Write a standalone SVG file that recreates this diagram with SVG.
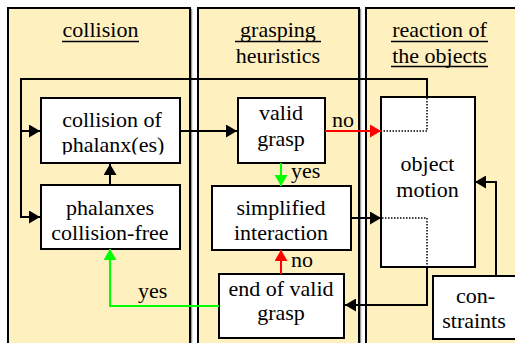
<svg xmlns="http://www.w3.org/2000/svg" width="515" height="343" viewBox="0 0 515 343">
<defs>
<marker id="ab" markerUnits="userSpaceOnUse" markerWidth="12" markerHeight="13" refX="11" refY="6.5" orient="auto"><path d="M0,0 L11,6.5 L0,13 z" fill="#000"/></marker>
<marker id="ar" markerUnits="userSpaceOnUse" markerWidth="12" markerHeight="13" refX="11" refY="6.5" orient="auto"><path d="M0,0 L11,6.5 L0,13 z" fill="#FF0000"/></marker>
<marker id="ag" markerUnits="userSpaceOnUse" markerWidth="12" markerHeight="13" refX="11" refY="6.5" orient="auto"><path d="M0,0 L11,6.5 L0,13 z" fill="#00FF00"/></marker>
</defs>
<rect width="515" height="343" fill="#fff"/>

<g id="panel-collision">
<rect x="9.5" y="9.5" width="182" height="336" fill="none" stroke="#999" stroke-width="1.5"/>
<rect x="8" y="8" width="182" height="336" fill="#FFF0C0" stroke="#000" stroke-width="2"/>
<text x="100.5" y="37" text-anchor="middle" font-size="22" font-family="Times New Roman, Tinos, Liberation Serif, serif">collision</text>
<line x1="62" y1="41.5" x2="139" y2="41.5" stroke="#000" stroke-width="1.5"/>
</g>
<g id="panel-grasping">
<rect x="199.5" y="9.5" width="161" height="336" fill="none" stroke="#999" stroke-width="1.5"/>
<rect x="198" y="8" width="161" height="336" fill="#FFF0C0" stroke="#000" stroke-width="2"/>
<text x="278" y="37" text-anchor="middle" font-size="22" font-family="Times New Roman, Tinos, Liberation Serif, serif">grasping</text>
<line x1="235" y1="41.5" x2="321" y2="41.5" stroke="#000" stroke-width="1.5"/>
<text x="278" y="63" text-anchor="middle" font-size="22" font-family="Times New Roman, Tinos, Liberation Serif, serif">heuristics</text>
</g>
<g id="panel-reaction">
<rect x="367.5" y="9.5" width="152" height="336" fill="none" stroke="#999" stroke-width="1.5"/>
<rect x="366" y="8" width="152" height="336" fill="#FFF0C0" stroke="#000" stroke-width="2"/>
<text x="439.5" y="37" text-anchor="middle" font-size="22" font-family="Times New Roman, Tinos, Liberation Serif, serif">reaction of</text>
<line x1="391" y1="41.5" x2="488" y2="41.5" stroke="#000" stroke-width="1.5"/>
<text x="439.5" y="63" text-anchor="middle" font-size="22" font-family="Times New Roman, Tinos, Liberation Serif, serif">the objects</text>
<line x1="391" y1="66.5" x2="488" y2="66.5" stroke="#000" stroke-width="1.5"/>
</g>

<g id="node-collision-of-phalanx">
<rect x="41" y="98" width="139" height="65" fill="#fff" stroke="#000" stroke-width="2"/>
<text x="112" y="127" text-anchor="middle" font-size="22" font-family="Times New Roman, Tinos, Liberation Serif, serif">collision of</text>
<text x="113" y="152" text-anchor="middle" font-size="22" font-family="Times New Roman, Tinos, Liberation Serif, serif">phalanx(es)</text>
<rect x="43" y="154.5" width="135" height="7.5" fill="#fff"/>
</g>
<g id="node-phalanxes-free">
<rect x="41" y="185" width="139" height="64" fill="#fff" stroke="#000" stroke-width="2"/>
<text x="110" y="215" text-anchor="middle" font-size="22" font-family="Times New Roman, Tinos, Liberation Serif, serif">phalanxes</text>
<text x="110" y="239.5" text-anchor="middle" font-size="22" font-family="Times New Roman, Tinos, Liberation Serif, serif">collision-free</text>
</g>
<g id="node-valid-grasp">
<rect x="238" y="98" width="87" height="65" fill="#fff" stroke="#000" stroke-width="2"/>
<text x="281" y="119.5" text-anchor="middle" font-size="22" font-family="Times New Roman, Tinos, Liberation Serif, serif">valid</text>
<text x="281" y="146" text-anchor="middle" font-size="22" font-family="Times New Roman, Tinos, Liberation Serif, serif">grasp</text>
</g>
<g id="node-simplified">
<rect x="212" y="186" width="139" height="64" fill="#fff" stroke="#000" stroke-width="2"/>
<text x="281" y="215" text-anchor="middle" font-size="22" font-family="Times New Roman, Tinos, Liberation Serif, serif">simplified</text>
<text x="281" y="240" text-anchor="middle" font-size="22" font-family="Times New Roman, Tinos, Liberation Serif, serif">interaction</text>
</g>
<g id="node-end-valid">
<rect x="219" y="274" width="125" height="64" fill="#fff" stroke="#000" stroke-width="2"/>
<text x="281" y="296" text-anchor="middle" font-size="22" font-family="Times New Roman, Tinos, Liberation Serif, serif">end of valid</text>
<text x="281" y="320" text-anchor="middle" font-size="22" font-family="Times New Roman, Tinos, Liberation Serif, serif">grasp</text>
</g>
<g id="node-object-motion">
<rect x="381" y="97" width="94" height="170" fill="#fff" stroke="#000" stroke-width="2"/>
<text x="427.5" y="171" text-anchor="middle" font-size="22" font-family="Times New Roman, Tinos, Liberation Serif, serif">object</text>
<text x="427.5" y="196.5" text-anchor="middle" font-size="22" font-family="Times New Roman, Tinos, Liberation Serif, serif">motion</text>
</g>
<g id="node-constraints">
<rect x="433" y="276" width="85" height="63" fill="#fff" stroke="#000" stroke-width="2"/>
<text x="475.5" y="303" text-anchor="middle" font-size="22" font-family="Times New Roman, Tinos, Liberation Serif, serif">con-</text>
<text x="474" y="328" text-anchor="middle" font-size="22" font-family="Times New Roman, Tinos, Liberation Serif, serif">straints</text>
</g>

<g id="connectors" fill="none" stroke-width="2">
<path d="M427,97 V79 H21 V217 H40" stroke="#000" marker-end="url(#ab)"/>
<path d="M21,131 H40" stroke="#000" marker-end="url(#ab)"/>
<path d="M427,98 V131 H382" stroke="#000" stroke-width="1.5" stroke-dasharray="1.5 1.5"/>
<path d="M382,218 H427 V266" stroke="#000" stroke-width="1.5" stroke-dasharray="1.5 1.5"/>
<path d="M427,267 V305 H345" stroke="#000" marker-end="url(#ab)"/>
<path d="M110,185 V164" stroke="#000" marker-end="url(#ab)"/>
<path d="M180,131 H237" stroke="#000" marker-end="url(#ab)"/>
<path d="M325,131 H381" stroke="#FF0000" marker-end="url(#ar)"/>
<path d="M281,163 V186" stroke="#00FF00" marker-end="url(#ag)"/>
<path d="M351,218 H381" stroke="#000" marker-end="url(#ab)"/>
<path d="M281,274 V250" stroke="#FF0000" marker-end="url(#ar)"/>
<path d="M219,306 H110 V249" stroke="#00FF00" marker-end="url(#ag)"/>
<path d="M496,276 V182 H475" stroke="#000" marker-end="url(#ab)"/>
<text x="332" y="127" fill="#000" stroke="none" font-size="22" font-family="Times New Roman, Tinos, Liberation Serif, serif">no</text>
<text x="291" y="178" fill="#000" stroke="none" font-size="22" font-family="Times New Roman, Tinos, Liberation Serif, serif">yes</text>
<text x="291" y="267" fill="#000" stroke="none" font-size="22" font-family="Times New Roman, Tinos, Liberation Serif, serif">no</text>
<text x="138" y="298" fill="#000" stroke="none" font-size="22" font-family="Times New Roman, Tinos, Liberation Serif, serif">yes</text>
</g>
</svg>
